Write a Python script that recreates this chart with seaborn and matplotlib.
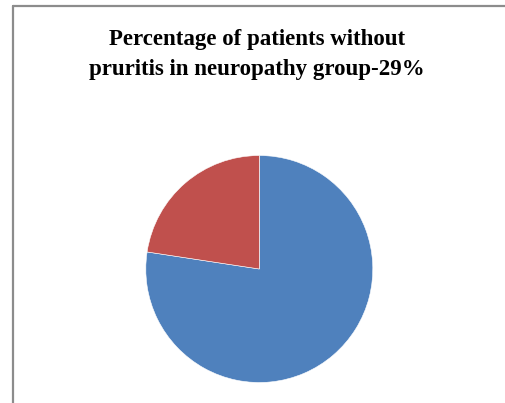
import matplotlib
matplotlib.use("Agg")
import matplotlib.pyplot as plt
import seaborn as sns
from matplotlib.lines import Line2D

# data
groups = ["Without pruritis", "With pruritis"]
shares = [77.4, 22.6]
slice_colors = ["#4F81BD", "#C0504D"]

title_lines = ["Percentage of patients without", "pruritis in neuropathy group-29%"]

sns.set_theme(style="white")

W, H = 505, 403
fig = plt.figure(figsize=(W / 100, H / 100), dpi=100)
fig.patch.set_facecolor("white")

# chart area border (only left and top edges visible in the crop)
fig.add_artist(Line2D([13 / W, 13 / W], [0, 1 - 6 / H], color="#8c8c8c", lw=1.6))
fig.add_artist(Line2D([13 / W, 1], [1 - 6 / H, 1 - 6 / H], color="#8c8c8c", lw=1.6))

# pie placed so its centre is at (259, 269) px with radius ~113.5 px
cx, cy, r = 259.3, 269, 113.5
ax = fig.add_axes([(cx - r) / W, (H - cy - r) / H, 2 * r / W, 2 * r / H])
ax.pie(shares, colors=slice_colors, startangle=90, counterclock=False,
       radius=1, wedgeprops=dict(edgecolor="white", linewidth=0.4))
ax.set_xlim(-1, 1)
ax.set_ylim(-1, 1)
ax.set_aspect("equal")
ax.axis("off")

# title, one text per line so each baseline sits where the reference has it
for line, base_y in zip(title_lines, [45, 75]):
    fig.text(257 / W, 1 - base_y / H, line, ha="center", va="baseline",
             fontsize=16.5, fontweight="bold",
             family=["Liberation Serif", "DejaVu Serif"], color="black")

fig.savefig("out.png", dpi=100, facecolor="white")
